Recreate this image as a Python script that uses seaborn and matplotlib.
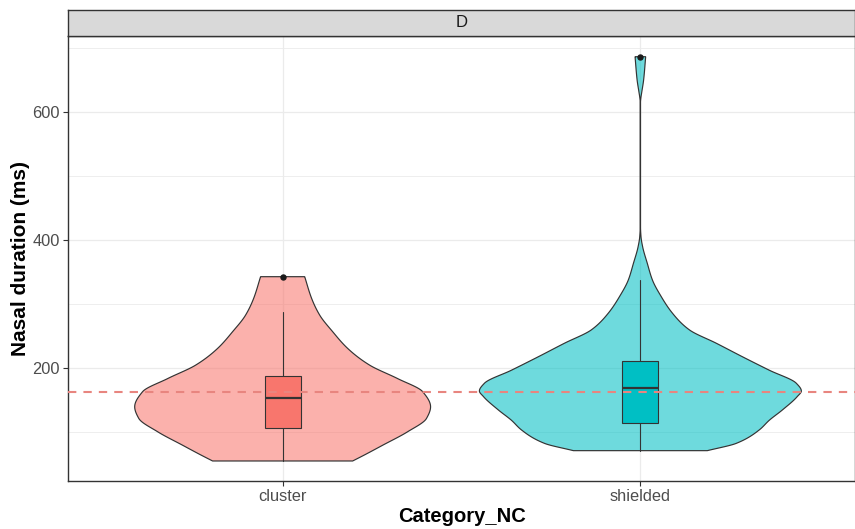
import numpy as np
import matplotlib
matplotlib.use("Agg")
import matplotlib.pyplot as plt
from matplotlib.patches import Polygon
import seaborn as sns

# ---- data -------------------------------------------------------------
categories = ["cluster", "shielded"]
facet_label = "D"
reference_ms = 163.5

# violin outlines: duration (ms) and relative half-width (1 = widest violin)
cluster_profile_ms = [55.5, 65, 80, 101, 122, 140, 163.5, 184, 205, 231, 257, 283, 309, 342.8]
cluster_profile_w = [0.435, 0.509, 0.621, 0.776, 0.894, 0.919, 0.870, 0.714, 0.540,
                     0.404, 0.311, 0.230, 0.180, 0.137]

shielded_profile_ms = [71.6, 83, 104, 119, 135, 156, 164.6, 176.6, 197, 218, 239, 260,
                       286, 311.6, 337.6, 363.7, 389.6, 405, 420, 520, 615, 621, 631,
                       649, 685.7]
shielded_profile_w = [0.416, 0.596, 0.739, 0.801, 0.882, 0.975, 1.0, 0.969, 0.801, 0.634,
                      0.472, 0.304, 0.199, 0.130, 0.075, 0.043, 0.014, 0.004, 0.001,
                      0.001, 0.001, 0.003, 0.009, 0.020, 0.033]

# box summaries
whisker_low = [55.5, 71.6]
q1 = [106.5, 114.7]
median = [153.2, 168.8]
q3 = [188.0, 211.4]
whisker_high = [287.3, 337.6]
outliers = [[342.8], [685.7]]

# ---- styling ----------------------------------------------------------
palette = sns.color_palette(["#F8766D", "#00BFC4"])
sns.set_theme(style="whitegrid")
plt.rcParams["font.family"] = ["Liberation Sans", "DejaVu Sans"]

W, H = 855, 529
fig = plt.figure(figsize=(W / 100, H / 100), dpi=100)
ax = fig.add_axes([68 / W, 48 / H, 787 / W, 445 / H])
strip = fig.add_axes([68 / W, 493 / H, 787 / W, 26.5 / H])


def pchip(x, y, xn):
    """Monotone cubic evaluation used to smooth the violin outline."""
    x = np.asarray(x, float)
    y = np.asarray(y, float)
    h = np.diff(x)
    d = np.diff(y) / h
    m = np.zeros_like(y)
    m[0], m[-1] = d[0], d[-1]
    for k in range(1, len(x) - 1):
        if d[k - 1] * d[k] > 0:
            w1 = 2 * h[k] + h[k - 1]
            w2 = h[k] + 2 * h[k - 1]
            m[k] = (w1 + w2) / (w1 / d[k - 1] + w2 / d[k])
    idx = np.clip(np.searchsorted(x, xn) - 1, 0, len(x) - 2)
    t = (xn - x[idx]) / h[idx]
    h00 = 2 * t**3 - 3 * t**2 + 1
    h10 = t**3 - 2 * t**2 + t
    h01 = -2 * t**3 + 3 * t**2
    h11 = t**3 - t**2
    return h00 * y[idx] + h10 * h[idx] * m[idx] + h01 * y[idx + 1] + h11 * h[idx] * m[idx + 1]


max_half = 0.45  # widest violin spans 0.9 of a category slot
profiles = [(cluster_profile_ms, cluster_profile_w), (shielded_profile_ms, shielded_profile_w)]
for pos, ((ys, ws), col) in enumerate(zip(profiles, palette)):
    yy = np.linspace(ys[0], ys[-1], 600)
    ww = np.clip(pchip(ys, ws, yy), 0.0005, None) * max_half
    verts = np.concatenate([np.column_stack([pos - ww, yy]),
                            np.column_stack([pos + ww, yy])[::-1]])
    ax.add_patch(Polygon(verts, closed=True, facecolor=(*col, 0.57),
                         edgecolor="#333333", lw=0.85, zorder=2))

stats = [dict(med=median[i], q1=q1[i], q3=q3[i], whislo=whisker_low[i],
              whishi=whisker_high[i], fliers=outliers[i]) for i in range(2)]
bp = ax.bxp(stats, positions=[0, 1], widths=0.1, patch_artist=True, showcaps=False,
            manage_ticks=False,
            boxprops=dict(edgecolor="#333333", linewidth=0.8),
            whiskerprops=dict(color="#333333", linewidth=0.8),
            medianprops=dict(color="#333333", linewidth=1.6),
            flierprops=dict(marker="o", markerfacecolor="#1A1A1A", markeredgecolor="#1A1A1A",
                            markersize=3.6))
for patch, col in zip(bp["boxes"], palette):
    patch.set_facecolor(col)
for artist_list in bp.values():
    for a in artist_list:
        a.set_zorder(3)

ax.axhline(reference_ms, color="#E8857F", lw=1.5, dashes=(4, 3.4), zorder=4)

# axes, grid, ticks
ax.set_xlim(-0.6, 1.6)
ax.set_ylim(24.3, 718)
ax.set_xticks([0, 1])
ax.set_xticklabels(categories)
ax.set_yticks([200, 400, 600])
ax.set_yticks([100, 300, 500, 700], minor=True)
ax.set_facecolor("white")
ax.grid(True, which="major", color="#EBEBEB", lw=0.9)
ax.grid(True, which="minor", axis="y", color="#EBEBEB", lw=0.6)
ax.set_axisbelow(True)
for s in ax.spines.values():
    s.set_color("#333333")
    s.set_linewidth(1.0)
    s.set_visible(True)
ax.tick_params(axis="both", which="major", length=3.8, width=0.8, color="#333333",
               labelcolor="#4D4D4D", labelsize=11.8, pad=2, left=True, bottom=True)
ax.tick_params(axis="y", which="minor", length=0)
ax.set_xlabel("")
ax.set_ylabel("")

fig.text(21 / W, 1 - 258.5 / H, "Nasal duration (ms)", rotation=90, ha="center",
         va="center", fontsize=15, fontweight="bold", color="black")
fig.text(461.5 / W, 1 - 517 / H, "Category_NC", ha="center", va="center",
         fontsize=14.5, fontweight="bold", color="black")

# facet strip
strip.set_facecolor("#D9D9D9")
strip.set_xticks([])
strip.set_yticks([])
strip.grid(False)
for s in strip.spines.values():
    s.set_color("#333333")
    s.set_linewidth(1.0)
    s.set_visible(True)
strip.text(0.5, 0.5, facet_label, ha="center", va="center", fontsize=12,
           color="#1A1A1A", transform=strip.transAxes)

fig.savefig("out.png", dpi=100)
